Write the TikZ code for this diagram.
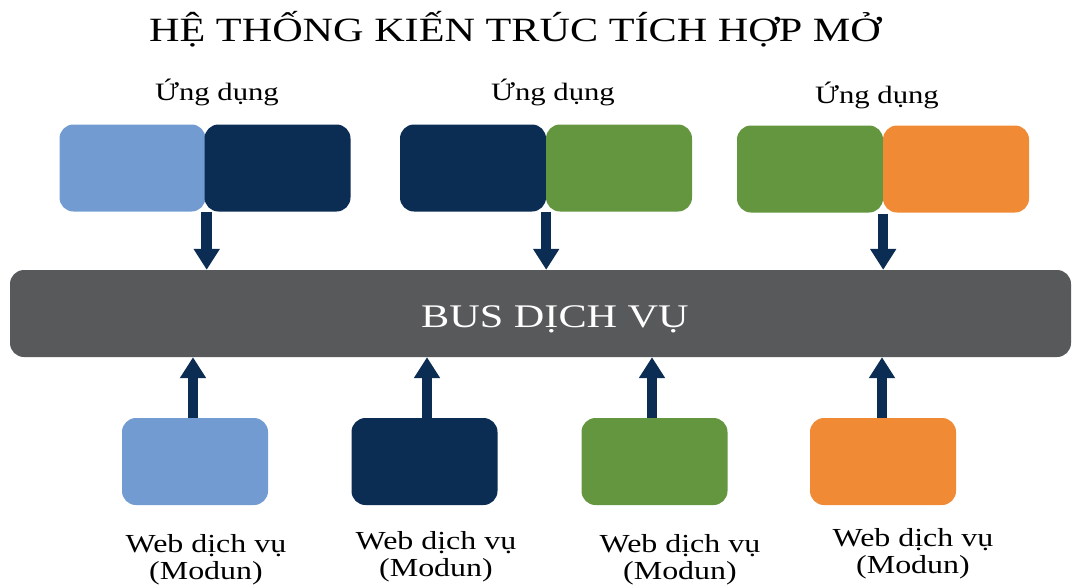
\documentclass[tikz,border=0pt]{standalone}
\usepackage{fontspec}
\setmainfont{Liberation Serif}
\usetikzlibrary{arrows.meta}
\definecolor{lblue}{HTML}{729CD1}
\definecolor{navy}{HTML}{0B2C53}
\definecolor{dgreen}{HTML}{63963F}
\definecolor{orng}{HTML}{F08A35}
\definecolor{busgray}{HTML}{58595B}
\tikzset{
  box/.style={rounded corners=14pt, inner sep=0pt, minimum width=146pt, minimum height=87pt},
  txt/.style={anchor=base, inner sep=0pt, xscale=1.28},
  flow/.style={draw=navy, line width=10.5pt, -{Triangle[width=25pt,length=21pt]}},
}
\begin{document}
\begin{tikzpicture}[x=1pt,y=-1pt]
\useasboundingbox (0,0) rectangle (1073,587);
% title
\node[txt, font=\fontsize{34}{36}\selectfont, xscale=0.97] (title) at (515,41) {HỆ THỐNG KIẾN TRÚC TÍCH HỢP MỞ};
% application labels
\tikzset{app/.style={txt, font=\fontsize{25}{27}\selectfont, xscale=0.96}}
\node[app] (u1) at (217,100) {Ứng dụng};
\node[app] (u2) at (553,100) {Ứng dụng};
\node[app] (u3) at (877,103) {Ứng dụng};
% application boxes
\node[box, fill=lblue] (a1l) at (132.5,168) {};
\node[box, fill=navy]  (a1r) at (277.5,168) {};
\node[box, fill=navy]  (a2l) at (473,168) {};
\node[box, fill=dgreen] (a2r) at (619,168) {};
\node[box, fill=dgreen] (a3l) at (810,169) {};
\node[box, fill=orng]  (a3r) at (956,169) {};
% bus
\node[box, fill=busgray, minimum width=1061pt, minimum height=87pt] (bus) at (540.5,313.5) {};
\node[txt, text=white, font=\fontsize{33}{36}\selectfont] (bustxt) at (555,327) {BUS DỊCH VỤ};
% modules
\node[box, fill=lblue]  (m1) at (195,461.5) {};
\node[box, fill=navy]   (m2) at (424.5,461.5) {};
\node[box, fill=dgreen] (m3) at (654.5,461.5) {};
\node[box, fill=orng]   (m4) at (883,461.5) {};
% module labels
\tikzset{lab/.style={txt, font=\fontsize{26}{28}\selectfont, xscale=0.96}}
\node[lab] (w1) at (206,552) {Web dịch vụ};
\node[lab] (n1) at (206,579) {(Modun)};
\node[lab] (w2) at (436,549) {Web dịch vụ};
\node[lab] (n2) at (436,576) {(Modun)};
\node[lab] (w3) at (680,552) {Web dịch vụ};
\node[lab] (n3) at (680,579) {(Modun)};
\node[lab] (w4) at (913,546) {Web dịch vụ};
\node[lab] (n4) at (913,573) {(Modun)};
% arrows down
\coordinate (d1) at ([xshift=1pt]a1l.south east);
\coordinate (d2) at (a2l.south east);
\coordinate (d3) at ([yshift=-1pt]a3l.south east);
\draw[flow] (d1) -- (d1 |- bus.north);
\draw[flow] (d2) -- (d2 |- bus.north);
\draw[flow] (d3) -- (d3 |- bus.north);
% arrows up
\draw[flow] ([xshift=-2pt]m1.north) -- ([xshift=-2pt]m1.north |- bus.south);
\draw[flow] ([xshift=2.5pt]m2.north) -- ([xshift=2.5pt]m2.north |- bus.south);
\draw[flow] ([xshift=-2.5pt]m3.north) -- ([xshift=-2.5pt]m3.north |- bus.south);
\draw[flow] ([xshift=-1pt]m4.north) -- ([xshift=-1pt]m4.north |- bus.south);
\end{tikzpicture}
\end{document}
